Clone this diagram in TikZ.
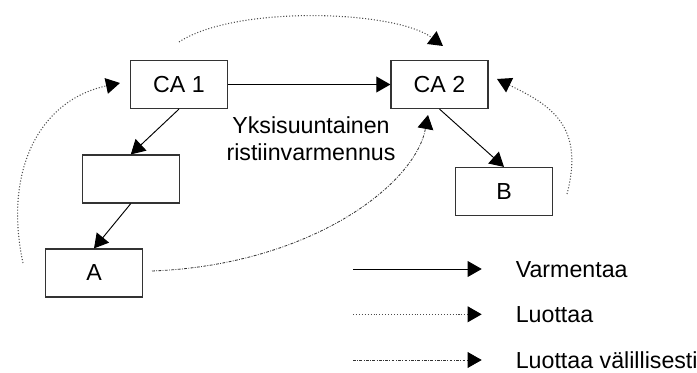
\documentclass[tikz,border=0pt]{standalone}
\usepackage{fontspec}
\setmainfont{Liberation Sans}
\usetikzlibrary{positioning,arrows.meta}
\tikzset{>={Triangle[length=12pt,width=13.5pt,color=black]}}
\tikzset{
  box/.style={draw=black!80, line width=1pt, minimum width=2.91cm, minimum height=1.44cm, inner sep=0pt},
  cert/.style={->, line width=0.8pt},
  trust/.style={->, line width=0.9pt, black!70, dash pattern=on 0.9pt off 1.6pt},
  indirect/.style={->, line width=0.7pt, black!80, dash pattern=on 2.4pt off 1.2pt on 0.7pt off 1.2pt}
}

\begin{document}
\begin{tikzpicture}[x=0.03cm, y=-0.03cm, font=\fontsize{19.8}{22.7}\selectfont]
  \useasboundingbox (0,0) rectangle (697,373);
  \node[box] (ca1) at (179,84.5) {CA 1};
  \node[box, right of=ca1, node distance=7.815cm] (ca2) {CA 2};
  \node[box] (mid) at (130.8,179) {};
  \node[box] (a) at (94,273) {A};
  \node[box] (b) at (504,191.5) {B};
  \node[align=center] (lbl) at (311,138.6) {Yksisuuntainen\\ristiinvarmennus};
  % varmenteet
  \draw[cert] (ca1) -- (ca2);
  \draw[cert] (ca1.south) -- (mid.north);
  \draw[cert] (mid.south) -- (a.north);
  \draw[cert] (ca2.south) -- (b.north);
  % luottamus
  \coordinate (a-out) at (23,263);
  \coordinate (ca1-in) at (120,83);
  \coordinate (ca1-out) at (179,42);
  \coordinate (ca2-in) at (443,46);
  \coordinate (b-out) at (567,194);
  \coordinate (ca2-in2) at (497,79);
  \coordinate (a-out2) at (152,271);
  \coordinate (ca2-in3) at (428,115);
  \draw[trust] (a-out) .. controls (3,170) and (40,100) .. (ca1-in);
  \draw[trust] (ca1-out) .. controls (235,5) and (395,10) .. (ca2-in);
  \draw[trust] (b-out) .. controls (585,125) and (550,105) .. (ca2-in2);
  \draw[indirect] (a-out2) .. controls (310,265) and (415,185) .. (ca2-in3);
  % selite
  \coordinate (k1) at (353,269);
  \coordinate (k1e) at (481.7,269);
  \coordinate (k2) at (353,314.3);
  \coordinate (k2e) at (481.7,314.3);
  \coordinate (k3) at (353,360);
  \coordinate (k3e) at (481.7,360);
  \draw[cert] (k1) -- (k1e);
  \draw[trust] (k2) -- (k2e);
  \draw[indirect] (k3) -- (k3e);
  \node[anchor=base west] (t1) at (511.7,278) {Varmentaa};
  \node[anchor=base west] (t2) at (511.7,322.7) {Luottaa};
  \node[anchor=base west] (t3) at (511.7,368.3) {Luottaa välillisesti};
\end{tikzpicture}
\end{document}
